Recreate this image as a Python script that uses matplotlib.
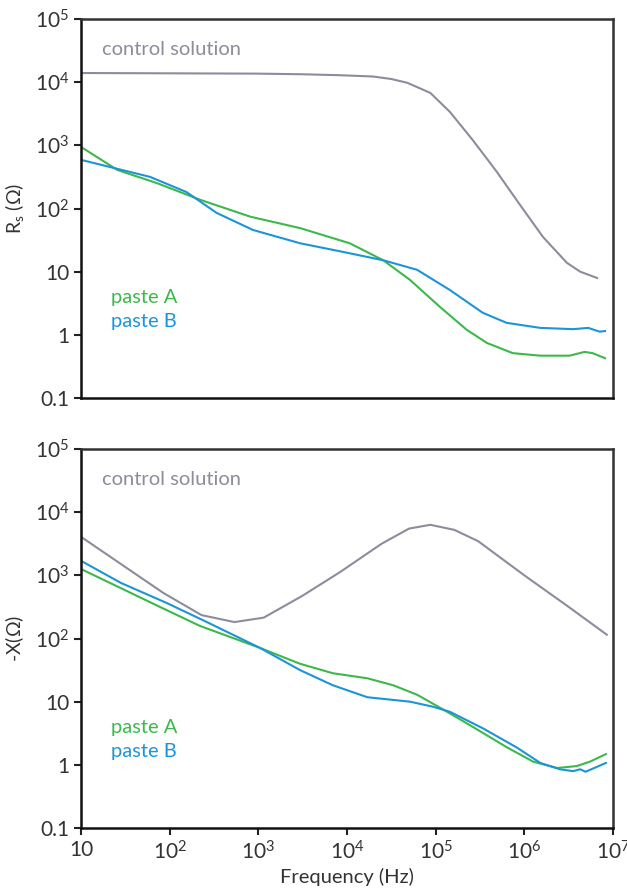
import numpy as np
import matplotlib
matplotlib.use('Agg')
import matplotlib.pyplot as plt
from matplotlib.ticker import FixedLocator, FixedFormatter, NullLocator

plt.rcParams['font.family'] = ['Lato', 'DejaVu Sans']
plt.rcParams['mathtext.fontset'] = 'custom'
plt.rcParams['mathtext.rm'] = 'Lato'
plt.rcParams['mathtext.it'] = 'Lato:italic'

# values, as log10(frequency) and log10(ohm)
# top panel: Rs
rs_ctrl_f = [1.0, 2.0, 3.0, 3.5, 3.92, 4.29, 4.5, 4.68, 4.94, 5.16, 5.42, 5.69, 5.95, 6.21, 6.48, 6.63, 6.82]
rs_ctrl_v = [4.145, 4.14, 4.135, 4.125, 4.11, 4.09, 4.05, 3.99, 3.83, 3.53, 3.08, 2.58, 2.06, 1.55, 1.14, 1.00, 0.90]

rs_a_f = [1.0, 1.41, 1.86, 2.34, 2.91, 3.47, 4.03, 4.41, 4.71, 5.05, 5.35, 5.58, 5.87, 6.18, 6.51, 6.68, 6.77, 6.91]
rs_a_v = [2.975, 2.61, 2.40, 2.14, 1.87, 1.69, 1.45, 1.18, 0.87, 0.44, 0.08, -0.13, -0.29, -0.33, -0.33, -0.27, -0.29, -0.37]

rs_b_f = [1.0, 1.78, 2.19, 2.53, 2.94, 3.47, 4.0, 4.41, 4.79, 5.16, 5.53, 5.80, 6.18, 6.55, 6.72, 6.85, 6.91]
rs_b_v = [2.77, 2.50, 2.26, 1.93, 1.66, 1.45, 1.30, 1.18, 1.03, 0.71, 0.35, 0.19, 0.11, 0.09, 0.11, 0.05, 0.06]

# bottom panel: -X
x_ctrl_f = [1.0, 1.47, 1.93, 2.36, 2.73, 3.06, 3.49, 3.92, 4.39, 4.70, 4.94, 5.21, 5.48, 6.0, 6.5, 6.93]
x_ctrl_v = [3.61, 3.16, 2.72, 2.37, 2.26, 2.33, 2.67, 3.05, 3.50, 3.74, 3.80, 3.72, 3.54, 3.0, 2.5, 2.06]

x_a_f = [1.0, 1.89, 2.34, 3.02, 3.47, 3.84, 4.23, 4.52, 4.79, 5.08, 5.42, 5.80, 6.10, 6.37, 6.59, 6.74, 6.92]
x_a_v = [3.10, 2.50, 2.20, 1.85, 1.60, 1.45, 1.37, 1.26, 1.11, 0.88, 0.60, 0.28, 0.05, -0.05, -0.02, 0.05, 0.17]

x_b_f = [1.0, 1.45, 1.97, 2.42, 3.02, 3.47, 3.84, 4.23, 4.71, 4.97, 5.16, 5.53, 5.92, 6.18, 6.40, 6.55, 6.63, 6.69, 6.92]
x_b_v = [3.23, 2.88, 2.56, 2.26, 1.85, 1.50, 1.26, 1.07, 1.00, 0.92, 0.84, 0.58, 0.27, 0.03, -0.07, -0.10, -0.07, -0.11, 0.03]

y_ticks = [0.1, 1, 10, 1e2, 1e3, 1e4, 1e5]
y_labels = ['0.1', '1', '10', r'$\mathregular{10^2}$', r'$\mathregular{10^3}$',
            r'$\mathregular{10^4}$', r'$\mathregular{10^5}$']
x_ticks = [10, 1e2, 1e3, 1e4, 1e5, 1e6, 1e7]
x_labels = ['10', r'$\mathregular{10^2}$', r'$\mathregular{10^3}$', r'$\mathregular{10^4}$',
            r'$\mathregular{10^5}$', r'$\mathregular{10^6}$', r'$\mathregular{10^7}$']

c_ctrl = '#8b8d9d'
c_a = '#3db84a'
c_b = '#1c95d8'

W, H = 627, 892
fig = plt.figure(figsize=(W / 100, H / 100), dpi=100)
ax1 = fig.add_axes([81 / W, 1 - 398 / H, 532 / W, 379 / H])
ax2 = fig.add_axes([81 / W, 1 - 828 / H, 532 / W, 379 / H])


def p(a):
    return 10 ** np.array(a)


ax1.plot(p(rs_ctrl_f), p(rs_ctrl_v), color=c_ctrl, lw=1.5)
ax1.plot(p(rs_a_f), p(rs_a_v), color=c_a, lw=1.5)
ax1.plot(p(rs_b_f), p(rs_b_v), color=c_b, lw=1.5)

ax2.plot(p(x_ctrl_f), p(x_ctrl_v), color=c_ctrl, lw=1.5)
ax2.plot(p(x_a_f), p(x_a_v), color=c_a, lw=1.5)
ax2.plot(p(x_b_f), p(x_b_v), color=c_b, lw=1.5)

for ax in (ax1, ax2):
    ax.set_xscale('log')
    ax.set_yscale('log')
    ax.set_xlim(10, 1e7)
    ax.set_ylim(0.1, 1e5)
    ax.yaxis.set_major_locator(FixedLocator(y_ticks))
    ax.yaxis.set_major_formatter(FixedFormatter(y_labels))
    ax.yaxis.set_minor_locator(NullLocator())
    ax.xaxis.set_minor_locator(NullLocator())
    ax.tick_params(axis='both', direction='out', length=5, width=1.5,
                   labelsize=15, colors='#222222', labelcolor='#333333')
    for s in ('left', 'bottom'):
        ax.spines[s].set_linewidth(1.8)
        ax.spines[s].set_color('#111111')
    for s in ('top', 'right'):
        ax.spines[s].set_linewidth(1.8)
        ax.spines[s].set_color('#333333')
    ax.text(0.04, 0.92, 'control solution', transform=ax.transAxes,
            color=c_ctrl, fontsize=14.5, va='center', ha='left')
    ax.text(0.056, 0.264, 'paste A', transform=ax.transAxes,
            color=c_a, fontsize=14.5, va='center', ha='left')
    ax.text(0.056, 0.203, 'paste B', transform=ax.transAxes,
            color=c_b, fontsize=14.5, va='center', ha='left')

ax1.xaxis.set_major_locator(NullLocator())
ax2.xaxis.set_major_locator(FixedLocator(x_ticks))
ax2.xaxis.set_major_formatter(FixedFormatter(x_labels))
ax2.tick_params(axis='x', pad=4)

ax1.set_ylabel(r'R$_\mathregular{s}$ ($\Omega$)', fontsize=14, color='#333333', labelpad=6)
ax2.set_ylabel(r'-X($\Omega$)', fontsize=14, color='#333333', labelpad=6)
ax2.set_xlabel('Frequency (Hz)', fontsize=14.5, color='#333333', labelpad=3)

fig.savefig('out.png', dpi=100)
